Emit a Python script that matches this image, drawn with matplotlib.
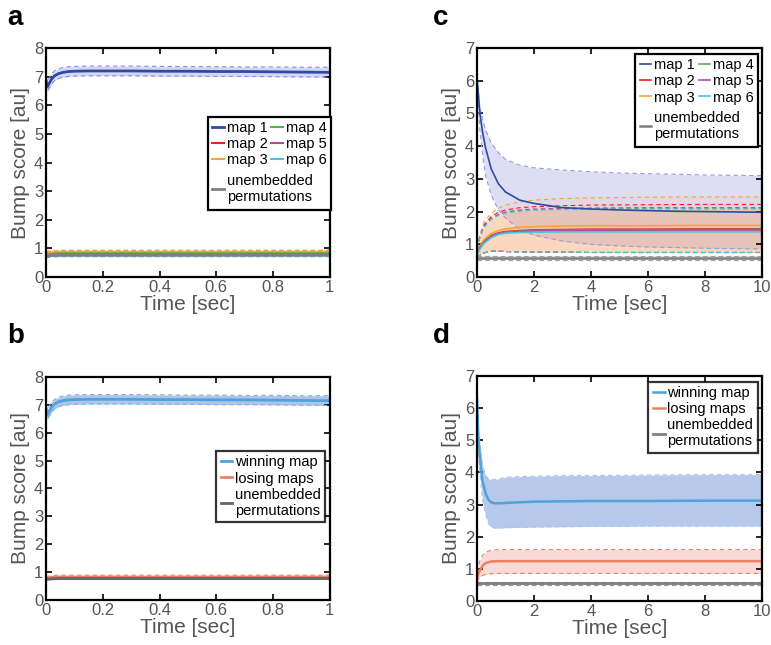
import numpy as np
import matplotlib
matplotlib.use("Agg")
import matplotlib.pyplot as plt
from matplotlib.patches import Rectangle
from matplotlib.transforms import Bbox

plt.rcParams['font.family'] = ['Liberation Sans', 'DejaVu Sans']

# ---------------- data ----------------
# panel a / b : first second
a_t = [0, 0.005, 0.01, 0.02, 0.03, 0.045, 0.06, 0.08, 0.1, 0.15, 0.2, 0.3, 0.4, 0.5, 0.6, 0.7, 0.8, 0.9, 1.0]
a_map1 = [6.85, 6.65, 6.75, 6.92, 7.03, 7.11, 7.15, 7.18, 7.19, 7.2, 7.2, 7.2, 7.19, 7.19, 7.18, 7.18, 7.17, 7.16, 7.15]
a_map1_hi = [7.0, 6.82, 6.93, 7.1, 7.2, 7.28, 7.32, 7.35, 7.36, 7.37, 7.37, 7.37, 7.36, 7.35, 7.35, 7.34, 7.34, 7.33, 7.33]
a_map1_lo = [6.7, 6.48, 6.57, 6.74, 6.86, 6.94, 6.98, 7.01, 7.02, 7.03, 7.03, 7.03, 7.02, 7.02, 7.01, 7.01, 7.0, 6.99, 6.98]

a_t_flat = [0, 0.02, 0.05, 0.1, 0.3, 0.6, 1.0]
a_map2 = [0.8, 0.83, 0.85, 0.85, 0.85, 0.85, 0.85]
a_map3 = [0.83, 0.86, 0.88, 0.88, 0.88, 0.88, 0.88]
a_map4 = [0.78, 0.81, 0.83, 0.83, 0.83, 0.83, 0.83]
a_map5 = [0.75, 0.78, 0.79, 0.79, 0.79, 0.79, 0.79]
a_map6 = [0.74, 0.76, 0.77, 0.77, 0.77, 0.77, 0.77]
a_unemb = [0.73, 0.75, 0.76, 0.76, 0.76, 0.76, 0.76]
a_flat_halfwidth = 0.06

b_losing = [0.78, 0.81, 0.82, 0.82, 0.82, 0.82, 0.82]
b_losing_hi = [0.84, 0.87, 0.89, 0.89, 0.89, 0.89, 0.89]
b_losing_lo = [0.72, 0.75, 0.76, 0.76, 0.76, 0.76, 0.76]
b_unemb = [0.74, 0.76, 0.77, 0.77, 0.77, 0.77, 0.77]
b_unemb_halfwidth = 0.04

# panel c : ten seconds, six maps
c_t = [0, 0.1, 0.2, 0.3, 0.5, 0.75, 1, 1.5, 2, 3, 4, 5, 6, 7, 8, 9, 10]
c_map1 = [6.1, 5.0, 4.4, 3.95, 3.3, 2.85, 2.6, 2.35, 2.25, 2.12, 2.08, 2.05, 2.03, 2.01, 2.0, 1.99, 1.98]
c_map1_hi = [6.1, 5.2, 4.8, 4.5, 4.1, 3.8, 3.6, 3.42, 3.34, 3.27, 3.22, 3.18, 3.16, 3.14, 3.12, 3.11, 3.1]
c_map1_lo = [6.0, 4.5, 3.7, 3.1, 2.5, 2.05, 1.8, 1.45, 1.28, 1.1, 1.0, 0.95, 0.92, 0.9, 0.88, 0.87, 0.86]

c_t2 = [0, 0.1, 0.25, 0.5, 0.75, 1, 1.5, 2, 3, 4, 6, 8, 10]
c_map2 = [0.72, 0.92, 1.1, 1.27, 1.35, 1.39, 1.42, 1.44, 1.45, 1.46, 1.46, 1.47, 1.47]
c_map3 = [0.75, 0.95, 1.15, 1.33, 1.42, 1.47, 1.52, 1.54, 1.56, 1.57, 1.57, 1.58, 1.58]
c_map4 = [0.7, 0.9, 1.08, 1.25, 1.33, 1.37, 1.4, 1.42, 1.43, 1.44, 1.44, 1.45, 1.45]
c_map5 = [0.7, 0.89, 1.07, 1.24, 1.32, 1.36, 1.39, 1.41, 1.42, 1.43, 1.44, 1.44, 1.44]
c_map6 = [0.68, 0.85, 1.03, 1.2, 1.3, 1.34, 1.36, 1.37, 1.38, 1.38, 1.38, 1.38, 1.38]
c_map2_hi = [0.88, 1.25, 1.6, 1.85, 1.98, 2.05, 2.12, 2.15, 2.18, 2.2, 2.21, 2.22, 2.22]
c_map3_hi = [0.9, 1.3, 1.7, 1.95, 2.1, 2.2, 2.3, 2.35, 2.4, 2.42, 2.44, 2.45, 2.45]
c_map4_hi = [0.86, 1.22, 1.55, 1.78, 1.9, 1.97, 2.03, 2.06, 2.08, 2.09, 2.1, 2.1, 2.1]
c_map5_hi = [0.86, 1.22, 1.55, 1.8, 1.92, 1.99, 2.05, 2.08, 2.1, 2.11, 2.12, 2.12, 2.12]
c_map6_hi = [0.84, 1.2, 1.52, 1.76, 1.88, 1.95, 2.01, 2.04, 2.06, 2.07, 2.08, 2.08, 2.08]
c_maps_lo = [0.6, 0.66, 0.74, 0.79, 0.79, 0.78, 0.77, 0.76, 0.76, 0.75, 0.75, 0.75, 0.75]

c_t_flat = [0, 10]
c_unemb = [0.58, 0.58]
c_unemb_halfwidth = 0.05

# panel d : winning / losing over ten seconds
d_t = [0, 0.05, 0.1, 0.15, 0.2, 0.3, 0.4, 0.5, 0.6, 0.8, 1, 1.5, 2, 3, 4, 6, 8, 10]
d_win = [6.3, 5.0, 4.5, 4.0, 3.7, 3.35, 3.15, 3.07, 3.04, 3.04, 3.05, 3.07, 3.09, 3.1, 3.11, 3.11, 3.12, 3.12]
d_win_hi = [6.3, 5.3, 4.9, 4.5, 4.2, 3.9, 3.8, 3.78, 3.78, 3.8, 3.85, 3.87, 3.88, 3.9, 3.9, 3.92, 3.93, 3.93]
d_win_lo = [6.3, 4.7, 4.1, 3.5, 3.1, 2.7, 2.4, 2.3, 2.27, 2.27, 2.28, 2.29, 2.3, 2.31, 2.32, 2.33, 2.33, 2.33]

d_t2 = [0, 0.05, 0.1, 0.2, 0.3, 0.5, 0.8, 1, 2, 4, 6, 8, 10]
d_losing = [0.7, 0.85, 0.95, 1.1, 1.18, 1.23, 1.24, 1.24, 1.24, 1.24, 1.24, 1.24, 1.24]
d_losing_hi = [0.9, 1.1, 1.25, 1.42, 1.52, 1.58, 1.6, 1.6, 1.6, 1.6, 1.6, 1.6, 1.6]
d_losing_lo = [0.6, 0.7, 0.75, 0.8, 0.83, 0.85, 0.86, 0.86, 0.86, 0.86, 0.86, 0.86, 0.86]
d_unemb = [0.55, 0.55]
d_unemb_halfwidth = 0.05

map_labels = ['map 1', 'map 2', 'map 3', 'map 4', 'map 5', 'map 6']
map_colors = ['#2B4BA8', '#E8202A', '#F7A530', '#4DB848', '#B04CA8', '#4DC6E0']
band_map1 = '#7C7CD2'
grey = '#808080'
win_color = '#4FA3DB'
win_band = '#6F95D6'
lose_color = '#EC8062'
lose_band = '#F4A0A0'

tick_grey = '#555555'


def band(ax, t, lo, hi, face, edge, alpha):
    ax.fill_between(t, lo, hi, color=face, alpha=alpha, linewidth=0)
    ax.plot(t, lo, color=edge, lw=0.8, ls=(0, (4, 3)))
    ax.plot(t, hi, color=edge, lw=0.8, ls=(0, (4, 3)))


def style_axes(ax, xmax, ymax, xticks):
    ax.set_xlim(0, xmax)
    ax.set_ylim(0, ymax)
    ax.set_xticks(xticks)
    ax.set_yticks(range(0, ymax + 1))
    ax.xaxis.set_major_formatter(matplotlib.ticker.FormatStrFormatter('%g'))
    ax.tick_params(direction='in', top=True, right=True, length=4, width=1.2,
                   labelsize=12, labelcolor=tick_grey, pad=2)
    for s in ax.spines.values():
        s.set_linewidth(1.6)
    ax.set_xlabel('Time [sec]', fontsize=15, color=tick_grey, labelpad=0)
    ax.set_ylabel('Bump score [au]', fontsize=15, color=tick_grey, labelpad=3)


def frame_legend(leg):
    fr = leg.get_frame()
    fr.set_boxstyle('square', pad=0)
    fr.set_edgecolor('black')
    fr.set_linewidth(1.6)


leg_kw = dict(fontsize=10.5, handlelength=0.8, handletextpad=0.2,
              labelspacing=0.15, borderpad=0.3, borderaxespad=0)

fig = plt.figure(figsize=(7.71, 6.45), dpi=100)
ax_a = fig.add_axes([0.0597, 0.5705, 0.368, 0.355])
ax_c = fig.add_axes([0.6187, 0.5705, 0.3696, 0.355])
ax_b = fig.add_axes([0.0597, 0.0698, 0.368, 0.3457])
ax_d = fig.add_axes([0.6187, 0.0682, 0.3696, 0.349])

# ---------------- panel a ----------------
a_small = [a_map2, a_map3, a_map4, a_map5, a_map6]
band(ax_a, a_t, a_map1_lo, a_map1_hi, band_map1, '#8A8ADC', 0.3)
for vals, col in zip(a_small, map_colors[1:]):
    v = np.array(vals)
    band(ax_a, a_t_flat, v - a_flat_halfwidth, v + a_flat_halfwidth, col, col, 0.08)
ua = np.array(a_unemb)
ax_a.fill_between(a_t_flat, ua - 0.03, ua + 0.03, color=grey, alpha=0.3, lw=0)
h_a = [ax_a.plot(a_t, a_map1, color=map_colors[0], lw=2)[0]]
for vals, col in zip(a_small, map_colors[1:]):
    h_a.append(ax_a.plot(a_t_flat, vals, color=col, lw=1.5)[0])
hu_a, = ax_a.plot(a_t_flat, a_unemb, color=grey, lw=2)
style_axes(ax_a, 1, 8, [0, 0.2, 0.4, 0.6, 0.8, 1])

# ---------------- panel b ----------------
band(ax_b, a_t, a_map1_lo, a_map1_hi, win_band, '#7FB0E6', 0.55)
band(ax_b, a_t_flat, b_losing_lo, b_losing_hi, lose_band, lose_color, 0.5)
ub = np.array(b_unemb)
ax_b.fill_between(a_t_flat, ub - b_unemb_halfwidth, ub + b_unemb_halfwidth, color=grey, alpha=0.35, lw=0)
hw_b, = ax_b.plot(a_t, a_map1, color=win_color, lw=2)
hl_b, = ax_b.plot(a_t_flat, b_losing, color=lose_color, lw=2)
hu_b, = ax_b.plot(a_t_flat, b_unemb, color='#666666', lw=2)
style_axes(ax_b, 1, 8, [0, 0.2, 0.4, 0.6, 0.8, 1])
leg = ax_b.legend([hw_b, hl_b, hu_b], ['winning map', 'losing maps', 'unembedded\npermutations'],
                  loc='upper left', bbox_to_anchor=(0.6, 0.668), fancybox=False, **leg_kw)
frame_legend(leg)

# ---------------- panel c ----------------
band(ax_c, c_t, c_map1_lo, c_map1_hi, band_map1, '#9A9AE0', 0.25)
c_small = [c_map2, c_map3, c_map4, c_map5, c_map6]
c_small_hi = [c_map2_hi, c_map3_hi, c_map4_hi, c_map5_hi, c_map6_hi]
for hi, col in zip(c_small_hi, map_colors[1:]):
    band(ax_c, c_t2, c_maps_lo, hi, '#F6A46A', col, 0.1)
uc = np.array(c_unemb)
band(ax_c, c_t_flat, uc - c_unemb_halfwidth, uc + c_unemb_halfwidth, grey, '#A0A0A0', 0.25)
h_c = [ax_c.plot(c_t, c_map1, color=map_colors[0], lw=1.2)[0]]
for vals, col in zip(c_small, map_colors[1:]):
    h_c.append(ax_c.plot(c_t2, vals, color=col, lw=1.2)[0])
hu_c, = ax_c.plot(c_t_flat, c_unemb, color=grey, lw=1.8)
style_axes(ax_c, 10, 7, [0, 2, 4, 6, 8, 10])

# ---------------- panel d ----------------
band(ax_d, d_t, d_win_lo, d_win_hi, win_band, '#A9C4EE', 0.5)
band(ax_d, d_t2, d_losing_lo, d_losing_hi, lose_band, lose_color, 0.4)
ud = np.array(d_unemb)
band(ax_d, c_t_flat, ud - d_unemb_halfwidth, ud + d_unemb_halfwidth, grey, '#909090', 0.35)
hw_d, = ax_d.plot(d_t, d_win, color=win_color, lw=1.8)
hl_d, = ax_d.plot(d_t2, d_losing, color=lose_color, lw=1.8)
hu_d, = ax_d.plot(c_t_flat, d_unemb, color=grey, lw=2)
style_axes(ax_d, 10, 7, [0, 2, 4, 6, 8, 10])
leg = ax_d.legend([hw_d, hl_d, hu_d], ['winning map', 'losing maps', 'unembedded\npermutations'],
                  loc='upper right', bbox_to_anchor=(0.985, 0.975), fancybox=False, **leg_kw)
frame_legend(leg)


# two-part legends for a and c (six maps in two columns, permutations below)
def split_legend(ax, handles, hu, x0, y0):
    l1 = ax.legend(handles, map_labels, ncol=2, loc='upper left', bbox_to_anchor=(x0, y0),
                   frameon=False, columnspacing=0.25, **leg_kw)
    l1.set_zorder(6)
    ax.add_artist(l1)
    fig.canvas.draw()
    bb1 = l1.get_window_extent()
    y1 = ax.transAxes.inverted().transform((0, bb1.y0))[1] + 0.01
    l2 = ax.legend([hu], ['unembedded\npermutations'], loc='upper left', bbox_to_anchor=(x0, y1),
                   frameon=False, **leg_kw)
    l2.set_zorder(6)
    fig.canvas.draw()
    bb = Bbox.union([bb1, l2.get_window_extent()])
    (fx0, fy0), (fx1, fy1) = fig.transFigure.inverted().transform([(bb.x0, bb.y0), (bb.x1, bb.y1)])
    ax.add_patch(Rectangle((fx0, fy0 - 0.002), fx1 - fx0, fy1 - fy0 + 0.002,
                           transform=fig.transFigure, facecolor='white', edgecolor='black',
                           lw=1.6, zorder=5, clip_on=False))


split_legend(ax_a, h_a, hu_a, 0.57, 0.70)
split_legend(ax_c, h_c, hu_c, 0.555, 0.975)

# panel letters
for x, y, s in [(0.009, 0.962, 'a'), (0.562, 0.962, 'c'), (0.009, 0.468, 'b'), (0.562, 0.468, 'd')]:
    fig.text(x, y, s, fontsize=20, fontweight='bold', ha='left', va='baseline')

fig.savefig('out.png', dpi=100)
